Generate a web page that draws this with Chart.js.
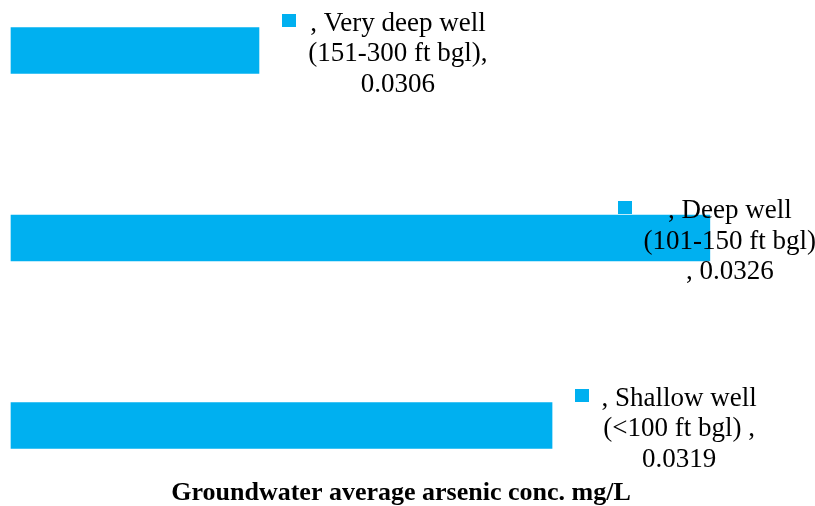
<!DOCTYPE html>
<html>
<head>
<meta charset="utf-8">
<script src="https://cdn.jsdelivr.net/npm/chart.js@4/dist/chart.umd.min.js"></script>
<style>
  html, body { margin: 0; padding: 0; background: #fff; }
  #wrap { width: 815px; height: 506px; }
</style>
</head>
<body>
<div id="wrap"><canvas id="chart"></canvas></div>
<script>
/* ---------- data ---------- */
const categories = [
  'Very deep well (151-300 ft bgl)',
  'Deep well (101-150 ft bgl)',
  'Shallow well (<100 ft bgl)'
];
const arsenicConc = [0.0306, 0.0326, 0.0319];
// label text as it wraps in the original; {v} is filled from arsenicConc
const labelLines = [
  [', Very deep well', '(151-300 ft bgl),', '{v}'],
  [', Deep well', '(101-150 ft bgl)', ', {v}'],
  [', Shallow well', '(<100 ft bgl) ,', '{v}']
];
const axisTitle = 'Groundwater average arsenic conc. mg/L';
const axisMin = 0.0295;
const axisMax = 0.03296;

const BAR_COLOR = '#00B0F0';
const SERIF = '"Liberation Serif", "Times New Roman", serif';

/* ---------- data label plugin (value + legend key) ---------- */
const wellLabels = {
  id: 'wellLabels',
  afterDatasetsDraw(chart, args, opts) {
    const { ctx } = chart;
    const meta = chart.getDatasetMeta(0);
    ctx.save();
    ctx.font = '27px ' + SERIF;
    ctx.textAlign = 'center';
    ctx.textBaseline = 'alphabetic';
    meta.data.forEach((bar, i) => {
      const lines = labelLines[i].map(l => l.replace('{v}', arsenicConc[i].toFixed(4)));
      const cx = bar.x + opts.shift[i];
      const base = bar.y - 20;
      let maxW = 0;
      ctx.fillStyle = '#000';
      lines.forEach((l, k) => {
        maxW = Math.max(maxW, ctx.measureText(l).width);
        ctx.fillText(l, cx, base + k * 30.5);
      });
      ctx.fillStyle = BAR_COLOR;
      ctx.fillRect(Math.round(cx - maxW / 2 - 26), Math.round(base - 17), 14, 13);
    });
    ctx.restore();
  }
};

new Chart(document.getElementById('chart'), {
  type: 'bar',
  data: {
    labels: categories,
    datasets: [{
      data: arsenicConc,
      base: axisMin,
      backgroundColor: BAR_COLOR,
      borderWidth: 0,
      barThickness: 46,
      clip: false
    }]
  },
  options: {
    indexAxis: 'y',
    responsive: true,
    maintainAspectRatio: false,
    animation: false,
    layout: { padding: { top: 50.5, left: 11, right: 24, bottom: 0 } },
    scales: {
      x: {
        min: axisMin,
        max: axisMax,
        grid: { display: false },
        border: { display: false },
        ticks: { display: false },
        title: {
          display: true,
          text: axisTitle,
          color: '#000',
          font: { family: SERIF, size: 26, weight: 'bold', lineHeight: 1 },
          padding: { top: 46.5, bottom: 0 }
        }
      },
      y: {
        display: false,
        offset: false
      }
    },
    plugins: {
      legend: { display: false },
      tooltip: { enabled: false },
      wellLabels: { shift: [139, 20, 127] }
    }
  },
  plugins: [wellLabels]
});
</script>
</body>
</html>
